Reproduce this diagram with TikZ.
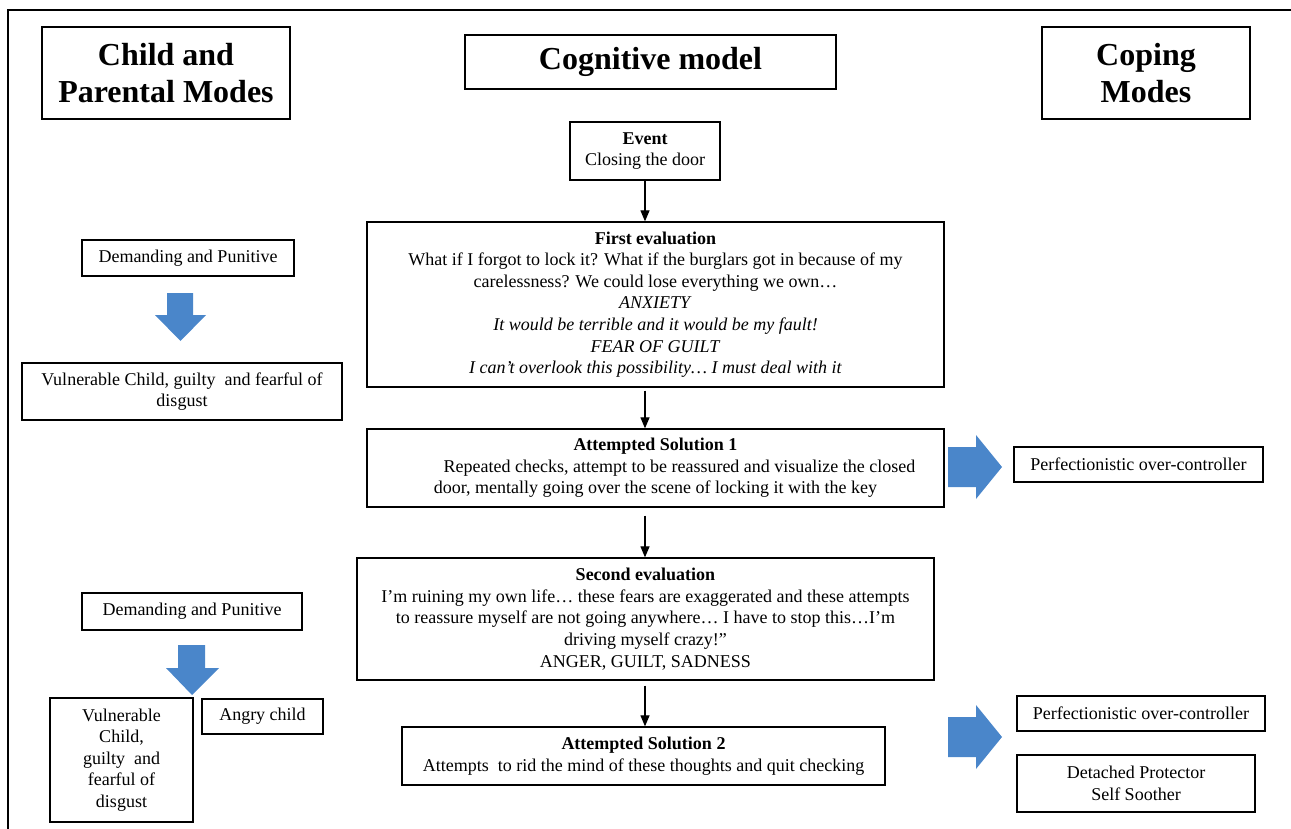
\documentclass[tikz,border=0pt]{standalone}
\usepackage{fontspec}
\setmainfont{Liberation Serif}
\usetikzlibrary{arrows.meta,calc}
\definecolor{blockblue}{RGB}{74,134,202}
\begin{document}
\begin{tikzpicture}[x=1pt,y=-1pt,
  box/.style={draw,line width=1.3pt,inner sep=0pt,align=center,font=\fontsize{18}{21.6}\selectfont},
  titlebox/.style={draw,line width=1.3pt,inner sep=0pt,align=center,font=\fontsize{32}{37}\selectfont\bfseries},
  arr/.style={line width=1.2pt,-{Triangle[length=11pt,width=9pt]}},
  blockarrow/.style={fill=blockblue,draw=none}]
\useasboundingbox (0,0) rectangle (1291,829);
% frame
\draw[line width=1.5pt] (8,829) -- (8,10) -- (1291,10);

% titles
\node[titlebox, minimum width=248pt, minimum height=92pt] (child) at (166,73) {Child and\\Parental Modes};
\node[titlebox, minimum width=371pt, minimum height=54pt] (cog) at (650.5,62) {Cognitive model};
\node[titlebox, minimum width=208pt, minimum height=92pt] (coping) at (1146,73) {Coping\\Modes};

% cognitive model chain
\node[box, minimum width=150pt, minimum height=58pt] (event) at (645,151) {\textbf{Event}\\Closing the door};
\node[box, minimum width=577pt, minimum height=165pt] (eval1) at (655.5,304.5) {\textbf{First evaluation}\\
What if I forgot to lock it? What if the burglars got in because of my\\
carelessness? We could lose everything we own…\\
\textit{ANXIETY}\\
\textit{It would be terrible and it would be my fault!}\\
\textit{FEAR OF GUILT}\\
\textit{I can’t overlook this possibility… I must deal with it}};
\node[box, minimum width=577pt, minimum height=78pt] (sol1) at (655.5,468) {\textbf{Attempted Solution 1}\\
\hspace*{48pt}Repeated checks, attempt to be reassured and visualize the closed\\
door, mentally going over the scene of locking it with the key};
\node[box, minimum width=577pt, minimum height=122pt] (eval2) at (645.5,619) {\textbf{Second evaluation}\\
I’m ruining my own life… these fears are exaggerated and these attempts\\
to reassure myself are not going anywhere… I have to stop this…I’m\\
driving myself crazy!”\\
ANGER, GUILT, SADNESS};
\node[box, minimum width=483pt, minimum height=58pt] (sol2) at (643.5,756) {\textbf{Attempted Solution 2}\\
Attempts\ \ to rid the mind of these thoughts and quit checking};

\draw[arr] (event.south) -- (event.south |- eval1.north);
\draw[arr] ($(event.south |- eval1.south)+(0,3)$) -- (event.south |- sol1.north);
\draw[arr] ($(event.south |- sol1.south)+(0,8)$) -- (event.south |- eval2.north);
\draw[arr] ($(event.south |- eval2.south)+(0,5)$) -- (event.south |- sol2.north);

% child and parental modes
\node[box, minimum width=212pt, minimum height=36pt] (dp1) at (188,258) {Demanding and Punitive};
\node[box, minimum width=320pt, minimum height=57pt] (vc1) at (182,391.5) {Vulnerable Child, guilty\ \ and fearful of\\disgust};
\node[box, minimum width=220pt, minimum height=37pt] (dp2) at (192,611.5) {Demanding and Punitive};
\node[box, minimum width=143pt, minimum height=124pt] (vc2) at (121.5,760) {Vulnerable\\Child,\\guilty\ \ and\\fearful of\\disgust};
\node[box, minimum width=121pt, minimum height=35pt] (angry) at (262.5,716.5) {Angry child};

% coping modes
\node[box, minimum width=249pt, minimum height=35pt] (perf1) at (1138.5,464.5) {Perfectionistic over-controller};
\node[box, minimum width=248pt, minimum height=35pt] (perf2) at (1141,713.5) {Perfectionistic over-controller};
\node[box, minimum width=238pt, minimum height=57pt] (det) at (1136,783.5) {Detached Protector\\Self Soother};

% block arrows
\fill[blockarrow] (167,293) -- (193,293) -- (193,315) -- (206,315) -- (180.5,341) -- (155,315) -- (167,315) -- cycle;
\fill[blockarrow] (178,645) -- (205,645) -- (205,668) -- (219,668) -- (192,695) -- (166,668) -- (178,668) -- cycle;
\fill[blockarrow] (948,447) -- (976,447) -- (976,435) -- (1002,467) -- (976,499) -- (976,487) -- (948,487) -- cycle;
\fill[blockarrow] (948,717) -- (976,717) -- (976,705) -- (1002,737) -- (976,769) -- (976,757) -- (948,757) -- cycle;
\end{tikzpicture}
\end{document}
